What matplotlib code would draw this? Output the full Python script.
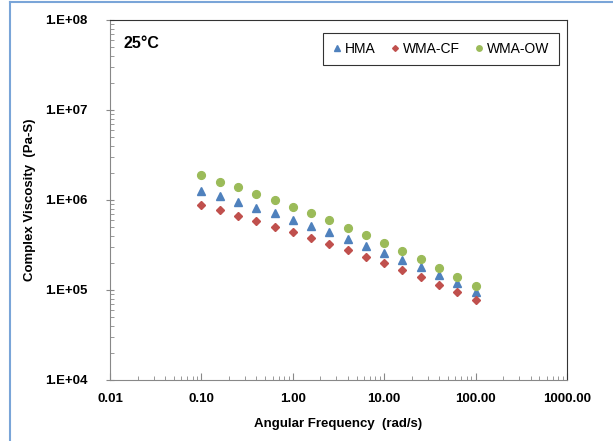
import numpy as np
import matplotlib
matplotlib.use("Agg")
import matplotlib.pyplot as plt
from matplotlib.lines import Line2D
from matplotlib.ticker import LogLocator, FixedLocator, FuncFormatter, NullFormatter

plt.rcParams['font.family'] = ['Liberation Sans', 'DejaVu Sans']

# Angular frequency (rad/s)
freq = [0.1, 0.158, 0.251, 0.398, 0.631, 1.0, 1.585, 2.512, 3.981,
        6.31, 10.0, 15.85, 25.12, 39.81, 63.1, 100.0]

# Complex viscosity (Pa-S)
hma = [1.26e6, 1.10e6, 9.5e5, 8.2e5, 7.1e5, 6.04e5, 5.14e5, 4.38e5, 3.69e5,
       3.11e5, 2.60e5, 2.15e5, 1.79e5, 1.46e5, 1.19e5, 9.6e4]
wma_cf = [8.8e5, 7.7e5, 6.7e5, 5.8e5, 5.05e5, 4.38e5, 3.75e5, 3.22e5, 2.76e5,
          2.33e5, 1.98e5, 1.66e5, 1.38e5, 1.14e5, 9.4e4, 7.7e4]
wma_ow = [1.88e6, 1.60e6, 1.41e6, 1.17e6, 1.0e6, 8.43e5, 7.11e5, 5.95e5, 4.89e5,
          4.06e5, 3.33e5, 2.71e5, 2.19e5, 1.77e5, 1.39e5, 1.11e5]

x_ticks = [0.01, 0.1, 1, 10, 100, 1000]
y_ticks = [1e4, 1e5, 1e6, 1e7, 1e8]

fig = plt.figure(figsize=(6.13, 4.41), dpi=100)
ax = fig.add_axes([110/613, 1 - 380/441, 457/613, 360/441])

ax.plot(freq, hma, '^', color='#4f81bd', markersize=5.8, label='HMA', linestyle='none')
ax.plot(freq, wma_cf, 'D', color='#c0504d', markersize=4.2, label='WMA-CF', linestyle='none')
ax.plot(freq, wma_ow, 'o', color='#9bbb59', markersize=5.6, label='WMA-OW', linestyle='none')

ax.set_xscale('log')
ax.set_yscale('log')
ax.set_xlim(0.01, 1000)
ax.set_ylim(1e4, 1e8)

ax.xaxis.set_major_locator(FixedLocator(x_ticks))
ax.yaxis.set_major_locator(FixedLocator(y_ticks))
ax.xaxis.set_minor_locator(LogLocator(base=10, subs=np.arange(2, 10)))
ax.yaxis.set_minor_locator(LogLocator(base=10, subs=np.arange(2, 10)))
ax.xaxis.set_minor_formatter(NullFormatter())
ax.yaxis.set_minor_formatter(NullFormatter())
ax.xaxis.set_major_formatter(FuncFormatter(lambda v, p: f"{v:.2f}"))
ax.yaxis.set_major_formatter(FuncFormatter(lambda v, p: "1.E+%02d" % int(round(np.log10(v)))))

ax.tick_params(axis='both', which='major', labelsize=9.5, colors='#000000')
ax.tick_params(axis='x', which='major', direction='in', length=5, color='#888888', pad=9)
ax.tick_params(axis='x', which='minor', direction='in', length=3, color='#888888')
ax.tick_params(axis='y', which='major', direction='inout', length=6, color='#888888', pad=13)
ax.tick_params(axis='y', which='minor', direction='in', length=3, color='#888888')
for lab in ax.get_xticklabels() + ax.get_yticklabels():
    lab.set_fontweight('bold')

ax.spines['left'].set_color('#888888')
ax.spines['bottom'].set_color('#888888')
ax.spines['top'].set_color('#333333')
ax.spines['right'].set_color('#333333')

ax.set_xlabel('Angular Frequency  (rad/s)', fontsize=9.5, fontweight='bold', labelpad=10)
ax.set_ylabel('Complex Viscosity  (Pa-S)', fontsize=9.5, fontweight='bold', labelpad=7)

ax.text(0.03, 0.935, '25°C', transform=ax.transAxes, fontsize=11.5, fontweight='bold',
        va='center', ha='left')

leg = ax.legend(loc='upper left', bbox_to_anchor=(0.466, 0.964), ncol=3, fontsize=10,
                frameon=True, fancybox=False, edgecolor='#000000', markerscale=0.7,
                handlelength=0.7, handletextpad=0.25, columnspacing=1.0, borderpad=0.65,
                borderaxespad=0)
leg.get_frame().set_linewidth(0.8)

# outer chart border (Excel chart area)
fig.add_artist(Line2D([10/613, 1], [1 - 2/441, 1 - 2/441], color='#7aa5d8', linewidth=1.5))
fig.add_artist(Line2D([10/613, 10/613], [0, 1 - 2/441], color='#7aa5d8', linewidth=1.5))

plt.savefig("out.png", dpi=100)
